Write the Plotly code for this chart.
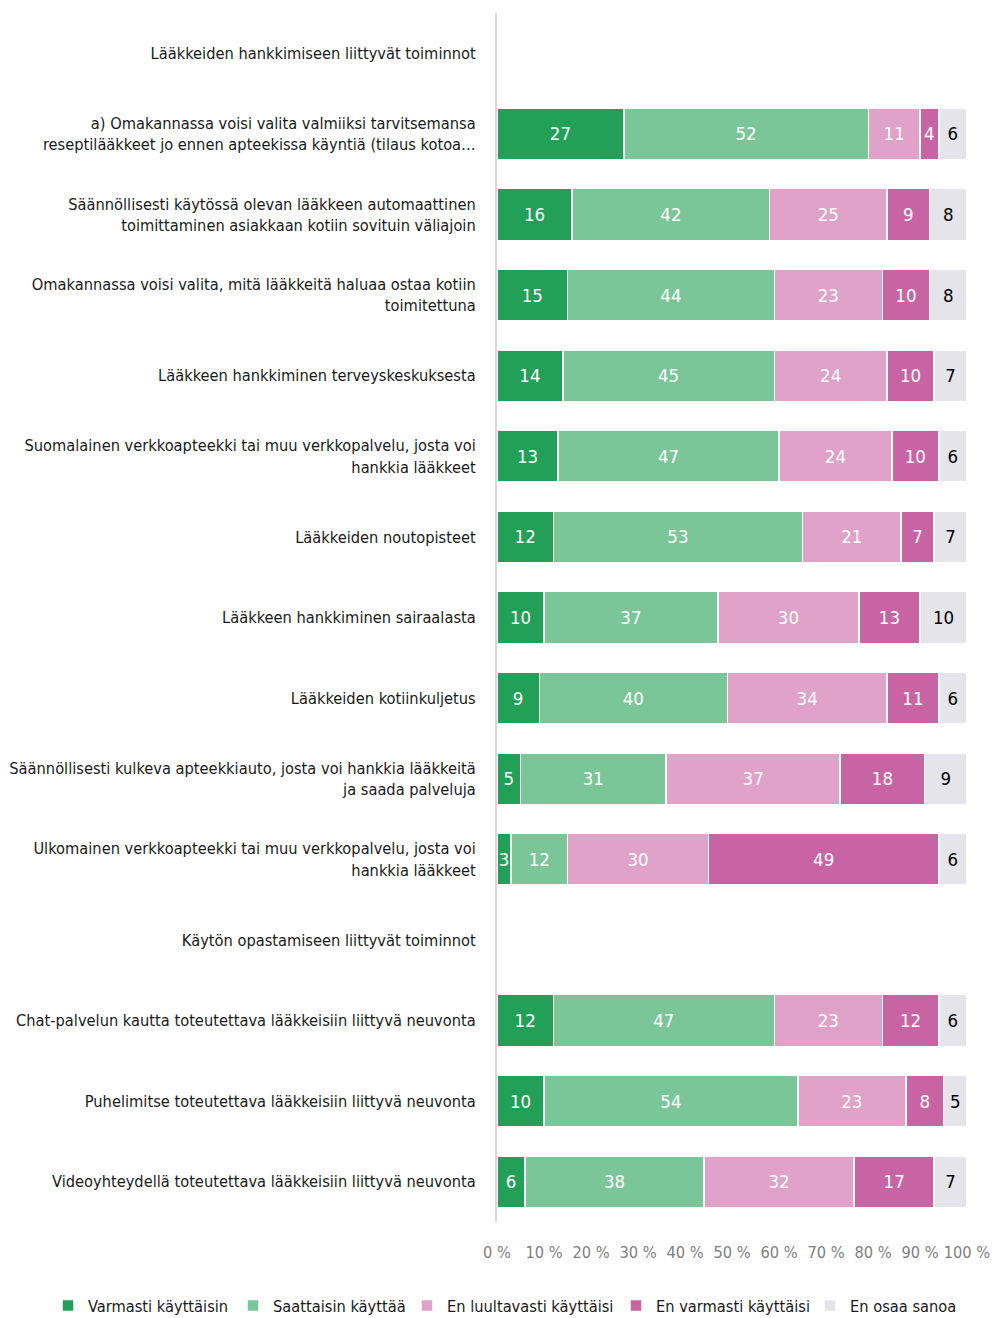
import plotly.graph_objects as go

categories = [
    "Lääkkeiden hankkimiseen liittyvät toiminnot",
    "a) Omakannassa voisi valita valmiiksi tarvitsemansa<br>reseptilääkkeet jo ennen apteekissa käyntiä (tilaus kotoa…",
    "Säännöllisesti käytössä olevan lääkkeen automaattinen<br>toimittaminen asiakkaan kotiin sovituin väliajoin",
    "Omakannassa voisi valita, mitä lääkkeitä haluaa ostaa kotiin<br>toimitettuna",
    "Lääkkeen hankkiminen terveyskeskuksesta",
    "Suomalainen verkkoapteekki tai muu verkkopalvelu, josta voi<br>hankkia lääkkeet",
    "Lääkkeiden noutopisteet",
    "Lääkkeen hankkiminen sairaalasta",
    "Lääkkeiden kotiinkuljetus",
    "Säännöllisesti kulkeva apteekkiauto, josta voi hankkia lääkkeitä<br>ja saada palveluja",
    "Ulkomainen verkkoapteekki tai muu verkkopalvelu, josta voi<br>hankkia lääkkeet",
    "Käytön opastamiseen liittyvät toiminnot",
    "Chat-palvelun kautta toteutettava lääkkeisiin liittyvä neuvonta",
    "Puhelimitse toteutettava lääkkeisiin liittyvä neuvonta",
    "Videoyhteydellä toteutettava lääkkeisiin liittyvä neuvonta",
]

series_names = [
    "Varmasti käyttäisin",
    "Saattaisin käyttää",
    "En luultavasti käyttäisi",
    "En varmasti käyttäisi",
    "En osaa sanoa",
]

varmasti = [None, 27, 16, 15, 14, 13, 12, 10, 9, 5, 3, None, 12, 10, 6]
saattaisin = [None, 52, 42, 44, 45, 47, 53, 37, 40, 31, 12, None, 47, 54, 38]
luultavasti_ei = [None, 11, 25, 23, 24, 24, 21, 30, 34, 37, 30, None, 23, 23, 32]
varmasti_ei = [None, 4, 9, 10, 10, 10, 7, 13, 11, 18, 49, None, 12, 8, 17]
ei_osaa = [None, 6, 8, 8, 7, 6, 7, 10, 6, 9, 6, None, 6, 5, 7]

tick_values = [0, 10, 20, 30, 40, 50, 60, 70, 80, 90, 100]
tick_labels = ["0 %", "10 %", "20 %", "30 %", "40 %", "50 %", "60 %", "70 %", "80 %", "90 %", "100 %"]

colors = ["#23a057", "#7bc698", "#e0a2c9", "#c964a4", "#e5e4ea"]
text_colors = ["white", "white", "white", "white", "black"]

# left edge (px) of each legend entry's text along the bottom row
legend_text_x = [87, 272, 446, 655, 849]

FONT = "DejaVu Sans Condensed, Liberation Sans Narrow, Arial Narrow, sans-serif"
W, H = 994, 1318

fig = go.Figure()
legend_layout = {}
for i, (name, vals, col, tcol) in enumerate(zip(series_names,
                                                [varmasti, saattaisin, luultavasti_ei, varmasti_ei, ei_osaa],
                                                colors, text_colors)):
    key = "legend" if i == 0 else f"legend{i + 1}"
    fig.add_trace(go.Bar(
        y=categories,
        x=vals,
        name=name,
        legend=key,
        orientation="h",
        marker=dict(color=col, line=dict(color="white", width=1.5)),
        text=[("" if v is None else str(v)) for v in vals],
        textposition="inside",
        insidetextanchor="middle",
        textfont=dict(color=tcol, size=18.5, family=FONT),
        hoverinfo="x+name",
    ))
    legend_layout[key] = dict(
        orientation="h",
        xref="container", yref="container",
        x=(legend_text_x[i] - 39) / W, xanchor="left",
        y=1 - 1306 / H, yanchor="middle",
        font=dict(size=16.3, color="#1a1a1a", family=FONT),
        itemwidth=30,
        bgcolor="rgba(0,0,0,0)",
    )

fig.update_layout(
    barmode="stack",
    bargap=0.36,
    width=W,
    height=H,
    margin=dict(l=497, r=27, t=13, b=96, autoexpand=False),
    paper_bgcolor="white",
    plot_bgcolor="white",
    font=dict(family=FONT, size=16.3, color="#1a1a1a"),
    uniformtext=dict(minsize=18.5, mode="show"),
    showlegend=True,
    **legend_layout,
)

fig.update_xaxes(
    range=[0, 100],
    tickvals=tick_values,
    ticktext=tick_labels,
    showgrid=False,
    zeroline=False,
    showline=False,
    ticks="",
    automargin=False,
    tickfont=dict(size=16.3, color="#808080"),
    ticklabelstandoff=19,
)
fig.update_yaxes(
    categoryorder="array",
    categoryarray=categories,
    autorange="reversed",
    showgrid=False,
    zeroline=False,
    showline=True,
    linecolor="#d9d9d9",
    linewidth=2,
    ticks="",
    automargin=False,
    ticklabelstandoff=16,
    tickfont=dict(size=16.3, color="#1a1a1a"),
)

fig.write_html("out.html")
